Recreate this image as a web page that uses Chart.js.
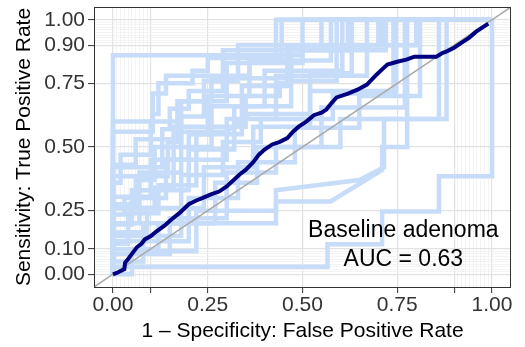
<!DOCTYPE html>
<html>
<head>
<meta charset="utf-8">
<script src="https://cdn.jsdelivr.net/npm/chart.js@4/dist/chart.umd.min.js"></script>
<style>body{margin:0;background:#fff}</style>
</head>
<body>
<canvas id="roc" width="525" height="347"></canvas>
<script>
// main ROC curve (1 - specificity, sensitivity)
const rocFpr = [0.0, 0.01, 0.03, 0.032, 0.04, 0.05, 0.063, 0.075, 0.084, 0.1, 0.115, 0.135, 0.155, 0.175, 0.2, 0.22, 0.237, 0.26, 0.28, 0.3, 0.334, 0.35, 0.37, 0.385, 0.4, 0.42, 0.44, 0.46, 0.475, 0.49, 0.51, 0.53, 0.55, 0.563, 0.575, 0.59, 0.62, 0.645, 0.67, 0.695, 0.71, 0.724, 0.75, 0.774, 0.795, 0.853, 0.87, 0.879, 0.9, 0.92, 0.94, 0.958, 0.975, 0.99];
const rocTpr = [0.0, 0.005, 0.02, 0.045, 0.06, 0.08, 0.106, 0.12, 0.137, 0.15, 0.169, 0.19, 0.216, 0.24, 0.275, 0.29, 0.30, 0.315, 0.325, 0.345, 0.392, 0.41, 0.44, 0.47, 0.49, 0.51, 0.52, 0.535, 0.56, 0.58, 0.6, 0.625, 0.635, 0.647, 0.67, 0.695, 0.71, 0.725, 0.745, 0.784, 0.805, 0.824, 0.835, 0.843, 0.855, 0.855, 0.87, 0.875, 0.89, 0.91, 0.93, 0.953, 0.97, 0.985];

// bootstrap curves, corner points (vertical step first, then horizontal)
const bootCurves = [
  [[0,0],[0.29,0.86],[0.72,0.88],[1,1]],
  [[0,0],[0.105,0.60],[0.14,0.71],[0.36,0.78],[0.43,0.84],[1,1]],
  [[0,0],[0.105,0.56],[0.12,0.63],[0.21,0.75],[0.25,0.80],[0.445,0.85],[1,1]],
  [[0,0],[0.13,0.42],[0.15,0.57],[0.2,0.65],[0.29,0.72],[0.5,0.86],[1,1]],
  [[0,0],[0.145,0.385],[0.18,0.52],[0.24,0.62],[0.33,0.76],[0.55,0.9],[1,1]],
  [[0,0],[0.1,0.305],[0.2,0.45],[0.25,0.55],[0.36,0.7],[0.575,0.84],[1,1]],
  [[0,0],[0.06,0.275],[0.11,0.37],[0.26,0.5],[0.4,0.66],[0.605,0.8],[1,1]],
  [[0,0],[0.03,0.235],[0.14,0.3],[0.3,0.45],[0.43,0.61],[0.67,0.78],[1,1]],
  [[0,0],[0.05,0.196],[0.2,0.33],[0.32,0.49],[0.47,0.66],[0.71,0.9],[1,1]],
  [[0,0],[0.09,0.165],[0.24,0.26],[0.37,0.42],[0.52,0.58],[0.74,0.72],[1,1]],
  [[0,0],[0.12,0.098],[0.27,0.2],[0.38,0.36],[0.55,0.5],[0.77,0.655],[1,1]],
  [[0,0],[0.08,0.05],[0.2,0.13],[0.33,0.3],[0.48,0.44],[0.65,0.576],[0.81,0.7],[1,1]],
  [[0,0],[0.566,0.03],[0.71,0.118],[0.86,0.247],[1,0.385],[1,1]],
  [[0,0],[0.15,0.08],[0.3,0.22],[0.43,0.4],[0.6,0.5],[0.88,0.61],[1,1]],
  [[0,0],[0.04,0.12],[0.12,0.24],[0.22,0.35],[0.34,0.55],[0.46,0.74],[0.59,0.76],[1,1]],
  [[0,0],[0.02,0.36],[0.1,0.47],[0.18,0.6],[0.3,0.68],[0.5,0.83],[0.8,0.9],[1,1]],
  [[0,0],[0.06,0.43],[0.17,0.53],[0.26,0.68],[0.47,0.77],[0.62,0.88],[1,1]],
  [[0,0],[0.11,0.26],[0.16,0.34],[0.35,0.58],[0.44,0.7],[0.46,0.75],[0.7,0.9],[1,1]],
  [[0,0],[0.18,0.15],[0.29,0.39],[0.39,0.52],[0.58,0.61],[0.747,0.71],[1,1]]
];
// bootstrap curves with tied segments, every vertex listed
const tieCurves = [
  [[0,0],[0,0.13],[0.08,0.13],[0.08,0.2],[0.43,0.2],[0.43,0.286],[0.574,0.286],[0.71,0.41],[0.71,0.5],[0.776,0.5],[0.776,1],[1,1]],
  [[0,0],[0.05,0],[0.05,0.09],[0.22,0.09],[0.22,0.25],[0.43,0.25],[0.43,0.33],[0.65,0.37],[0.715,0.42],[0.715,0.61],[0.86,0.61],[0.86,1],[1,1]],
  [[0,0],[0,0.2],[0.07,0.2],[0.07,0.4],[0.18,0.4],[0.18,0.56],[0.30,0.56],[0.36,0.63],[0.52,0.63],[0.52,0.79],[0.63,0.79],[0.63,1],[1,1]]
];

const chanceLine = [-0.05, 1.05];
const xTicks = [0, 0.1, 0.25, 0.5, 0.75, 0.9, 1];
const xLabelled = [0, 0.25, 0.5, 0.75, 1];
const yTicks = [0, 0.1, 0.25, 0.5, 0.75, 0.9, 1];
const minorTicks = [0.01, 0.02, 0.03, 0.04, 0.05, 0.06, 0.07, 0.08, 0.09,
                    0.91, 0.92, 0.93, 0.94, 0.95, 0.96, 0.97, 0.98, 0.99];
const annotation = ["Baseline adenoma", "AUC = 0.63"];
const annotationPos = [[0.766, 0.145], [0.766, 0.031]];

const BLUE = "#c6dcf8";
const FONT = "'Liberation Sans', Arial, sans-serif";
Chart.defaults.font.family = FONT;

const isMinor = (v) => minorTicks.includes(v);
const toPts = (c) => c.map(([x, y]) => ({ x, y }));

const datasets = [];
datasets.push({
    data: rocFpr.map((x, i) => ({ x, y: rocTpr[i] })),
    borderColor: "#000080",
    borderWidth: 4,
    order: 0,
});
datasets.push({
    data: chanceLine.map((v) => ({ x: v, y: v })),
    borderColor: "#aaaaaa",
    borderWidth: 1.5,
    order: 1,
});
bootCurves.forEach((c) => {
    datasets.push({ data: toPts(c), borderColor: BLUE, borderWidth: 4.5, stepped: "after", order: 2 });
});
tieCurves.forEach((c) => {
    datasets.push({ data: toPts(c), borderColor: BLUE, borderWidth: 4.5, order: 2 });
});

const frame = {
    id: "frame",
    afterDatasetsDraw(chart) {
        const { ctx, chartArea: a, scales } = chart;
        ctx.save();
        ctx.strokeStyle = "#333";
        ctx.lineWidth = 1;
        ctx.strokeRect(a.left + 0.5, a.top + 0.5, a.right - a.left - 1, a.bottom - a.top);
        ctx.fillStyle = "#000";
        ctx.font = "23px " + FONT;
        ctx.textAlign = "center";
        ctx.textBaseline = "alphabetic";
        annotation.forEach((t, i) => {
            const [x, y] = annotationPos[i];
            ctx.fillText(t, scales.x.getPixelForValue(x), scales.y.getPixelForValue(y));
        });
        ctx.restore();
    },
};

const gridOpts = {
    color: (c) => (isMinor(c.tick.value) ? "#efefef" : "#e2e2e2"),
    lineWidth: (c) => (isMinor(c.tick.value) ? 0.7 : 1.2),
    tickColor: (c) => (isMinor(c.tick.value) ? "rgba(0,0,0,0)" : "#333"),
    tickLength: 6,
    tickWidth: 1,
};

new Chart(document.getElementById("roc"), {
    type: "line",
    data: { datasets },
    options: {
        responsive: false,
        animation: false,
        parsing: false,
        layout: { padding: { left: 0, right: 14, top: 7, bottom: 0 } },
        elements: { point: { radius: 0 }, line: { tension: 0, borderCapStyle: "butt" } },
        plugins: { legend: { display: false }, tooltip: { enabled: false } },
        scales: {
            x: {
                type: "linear",
                min: -0.05,
                max: 1.05,
                afterBuildTicks: (s) => {
                    s.ticks = xTicks.concat(minorTicks).sort((a, b) => a - b).map((v) => ({ value: v }));
                },
                afterFit: (s) => {
                    s.height = 60;
                    s.paddingLeft = 0;
                    s.paddingRight = 0;
                },
                grid: gridOpts,
                border: { display: false },
                ticks: {
                    autoSkip: false,
                    maxRotation: 0,
                    padding: 0,
                    color: "#333",
                    font: { size: 21 },
                    callback: (v) => (xLabelled.includes(v) ? v.toFixed(2) : ""),
                },
                title: {
                    display: true,
                    text: "1 \u2013 Specificity: False Positive Rate",
                    color: "#000",
                    font: { size: 21 },
                    padding: { top: 0, bottom: 3 },
                },
            },
            y: {
                type: "linear",
                min: -0.05,
                max: 1.05,
                afterBuildTicks: (s) => {
                    s.ticks = yTicks.concat(minorTicks).sort((a, b) => a - b).map((v) => ({ value: v }));
                },
                afterFit: (s) => {
                    s.width = 94;
                    s.paddingTop = 0;
                    s.paddingBottom = 0;
                },
                grid: gridOpts,
                border: { display: false },
                ticks: {
                    autoSkip: false,
                    padding: 3,
                    color: "#333",
                    font: { size: 21 },
                    callback: (v) => (yTicks.includes(v) ? v.toFixed(2) : ""),
                },
                title: {
                    display: true,
                    text: "Sensitivity: True Positive Rate",
                    color: "#000",
                    font: { size: 21 },
                    padding: { top: 12, bottom: 0 },
                },
            },
        },
    },
    plugins: [frame],
});
</script>
</body>
</html>
